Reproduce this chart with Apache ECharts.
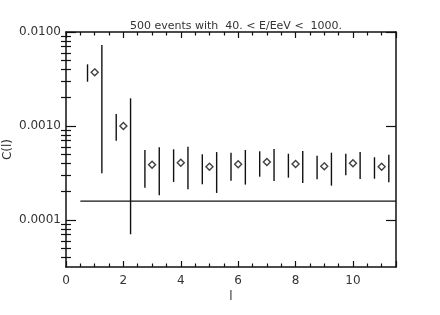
<!DOCTYPE html>
<html><head><meta charset="utf-8">
<script src="https://cdn.jsdelivr.net/npm/echarts@6/dist/echarts.min.js"></script>
<style>html,body{margin:0;padding:0;background:#fff}#c{width:440px;height:315px}</style>
</head><body><div id="c"></div>
<script>
// ---- data ----
const ell = [1, 2, 3, 4, 5, 6, 7, 8, 9, 10, 11];
const cl = [3.72e-3, 1.0e-3, 3.87e-4, 4.07e-4, 3.69e-4, 3.92e-4, 4.14e-4, 3.94e-4, 3.72e-4, 4.01e-4, 3.69e-4];
const leftLo = [2.96e-3, 6.98e-4, 2.21e-4, 2.54e-4, 2.40e-4, 2.62e-4, 2.89e-4, 2.82e-4, 2.71e-4, 2.99e-4, 2.75e-4];
const leftHi = [4.53e-3, 1.34e-3, 5.56e-4, 5.65e-4, 5.00e-4, 5.20e-4, 5.38e-4, 5.07e-4, 4.83e-4, 5.07e-4, 4.65e-4];
const rightLo = [3.14e-4, 7.05e-5, 1.83e-4, 2.12e-4, 1.94e-4, 2.38e-4, 2.60e-4, 2.48e-4, 2.32e-4, 2.73e-4, 2.52e-4];
const rightHi = [7.28e-3, 1.97e-3, 5.93e-4, 6.03e-4, 5.28e-4, 5.56e-4, 5.69e-4, 5.42e-4, 5.20e-4, 5.28e-4, 4.95e-4];
const refLevel = 1.59e-4;
const refRange = [0.5, 11.5];
const barOffset = 0.25;
const xTicks = [0, 2, 4, 6, 8, 10];
const yTicks = [1e-4, 1e-3, 1e-2];
const yMinor = [4e-5,5e-5,6e-5,7e-5,8e-5,9e-5,2e-4,3e-4,4e-4,5e-4,6e-4,7e-4,8e-4,9e-4,2e-3,3e-3,4e-3,5e-3,6e-3,7e-3,8e-3,9e-3];
const xRange = [0, 11.5];
const yRange = [Math.pow(10, -4.5), 1e-2];
const titleText = '500 events with  40. < E/EeV <  1000.';
const xName = 'l';
const yName = 'C(l)';

// ---- chart ----
const FONT = 'DejaVu Sans';
const INK = '#111';
const TXT = '#333';
const chart = echarts.init(document.getElementById('c'), null, {renderer: 'canvas'});

const barData = [];
ell.forEach((l, i) => {
  barData.push([l - barOffset, leftLo[i], leftHi[i]]);
  barData.push([l + barOffset, rightLo[i], rightHi[i]]);
});

function tick(len, vals) {
  const t = {show: true, inside: true, length: len, lineStyle: {color: INK, width: 1.2}};
  if (vals) t.customValues = vals;
  return t;
}
function xAx(pos, opts) {
  return Object.assign({
    type: 'value', position: pos, min: xRange[0], max: xRange[1], interval: 2,
    axisLine: {show: true, onZero: false, lineStyle: {color: INK, width: 1.5}},
    axisTick: tick(6),
    minorTick: {show: true, splitNumber: 4, length: 3.5, lineStyle: {color: INK, width: 1.2}},
    axisLabel: {show: false},
    splitLine: {show: false},
    minorSplitLine: {show: false}
  }, opts);
}
function yAx(pos, opts) {
  return Object.assign({
    type: 'log', logBase: 10, position: pos, min: yRange[0], max: yRange[1],
    axisLine: {show: true, onZero: false, lineStyle: {color: INK, width: 1.5}},
    axisTick: tick(10, yTicks),
    axisLabel: {show: false},
    splitLine: {show: false}
  }, opts);
}

chart.setOption({
  animation: false,
  backgroundColor: '#fff',
  title: {
    text: titleText, left: 231, top: 16, textAlign: 'center',
    textStyle: {fontFamily: FONT, fontSize: 11, fontWeight: 'normal', color: TXT}
  },
  grid: {left: 66, right: 44, top: 32, bottom: 48, containLabel: false, outerBoundsMode: 'none'},
  xAxis: [
    xAx('bottom', {
      axisLabel: {show: true, customValues: xTicks, margin: 8, fontFamily: FONT, fontSize: 12, color: TXT},
      name: xName, nameLocation: 'middle', nameGap: 24, nameMoveOverlap: false,
      nameTextStyle: {fontFamily: FONT, fontSize: 12, color: TXT}
    }),
    xAx('top', {})
  ],
  yAxis: [
    yAx('left', {
      axisLabel: {show: true, customValues: yTicks, margin: 5, fontFamily: FONT, fontSize: 12, color: TXT,
        formatter: v => Number(v).toFixed(4)},
      name: yName, nameLocation: 'middle', nameGap: 52, nameMoveOverlap: false,
      nameTextStyle: {fontFamily: FONT, fontSize: 12, color: TXT}
    }),
    yAx('left', {axisLine: {show: false}, axisTick: tick(5, yMinor)}),
    yAx('right', {}),
    yAx('right', {axisLine: {show: false}, axisTick: tick(5, yMinor)})
  ],
  series: [
    {
      type: 'line', xAxisIndex: 0, yAxisIndex: 0,
      data: [[refRange[0], refLevel], [refRange[1], refLevel]],
      symbol: 'none', lineStyle: {color: INK, width: 1.3}, silent: true
    },
    {
      type: 'custom', xAxisIndex: 0, yAxisIndex: 0,
      data: barData,
      encode: {x: 0, y: [1, 2]},
      renderItem: function (params, api) {
        const p1 = api.coord([api.value(0), api.value(1)]);
        const p2 = api.coord([api.value(0), api.value(2)]);
        return {
          type: 'line',
          shape: {x1: p1[0], y1: p1[1], x2: p2[0], y2: p2[1]},
          style: {stroke: INK, lineWidth: 1.4}
        };
      },
      silent: true
    },
    {
      type: 'scatter', xAxisIndex: 0, yAxisIndex: 0,
      data: ell.map((l, i) => [l, cl[i]]),
      symbol: 'diamond', symbolSize: [7, 7],
      itemStyle: {color: '#fff', borderColor: INK, borderWidth: 1.4},
      silent: true
    }
  ]
});
</script>
</body></html>
